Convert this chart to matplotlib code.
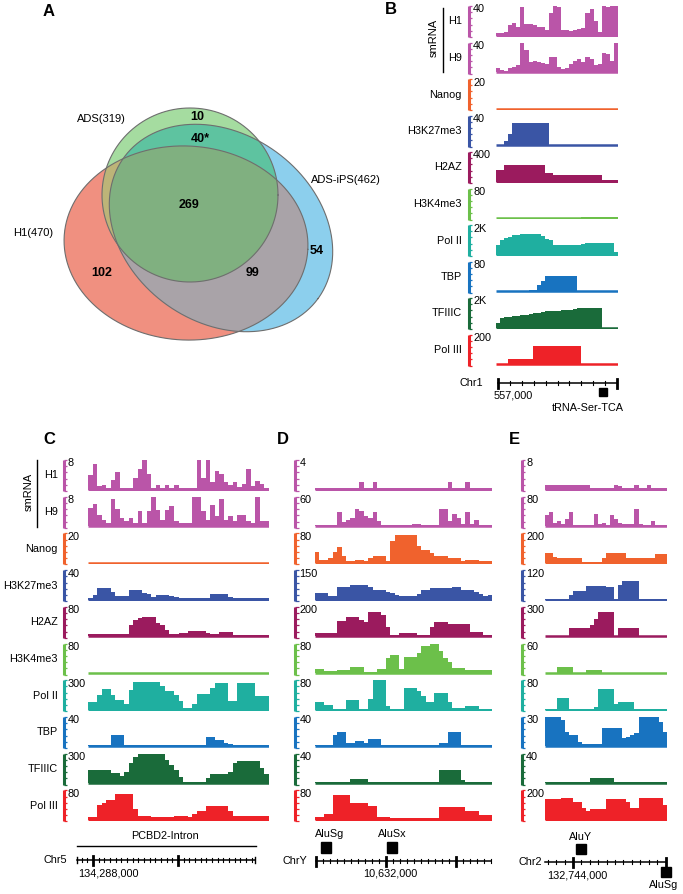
import numpy as np
import matplotlib
matplotlib.use('Agg')
import matplotlib.pyplot as plt

plt.rcParams['font.family'] = ['Liberation Sans', 'DejaVu Sans']

# ---------------- data ----------------
venn_sets = ['H1(470)', 'ADS(319)', 'ADS-iPS(462)']
venn_counts = ['10', '40*', '269', '102', '99', '54']

track_names = ['H1', 'H9', 'Nanog', 'H3K27me3', 'H2AZ', 'H3K4me3',
               'Pol II', 'TBP', 'TFIIIC', 'Pol III']
track_colors = ['#BA55A8', '#BA55A8', '#F0622D', '#3A55A5', '#9B1B5E',
                '#6CC04A', '#1FAFA0', '#1873C0', '#1A6B3A', '#EE2228']

# Panel B (Chr1, tRNA-Ser-TCA)
B_max = [40, 40, 20, 40, 400, 80, 2000, 80, 2000, 200]
B_max_labels = ['40', '40', '20', '40', '400', '80', '2K', '80', '2K', '200']
B_H1 = [4, 4, 5, 14, 17, 12, 39, 16, 15, 14, 11, 11, 8, 30, 40, 38, 7, 7, 6, 7,
        9, 10, 30, 36, 20, 5, 40, 38, 40, 40]
B_H9 = [6, 3, 2, 6, 7, 9, 39, 30, 13, 15, 13, 12, 11, 21, 20, 7, 4, 6, 11, 15,
        17, 13, 20, 17, 9, 11, 26, 24, 15, 39]
B_Nanog = [0] * 30
B_H3K27me3 = [0, 0, 5, 15] + [30] * 9 + [0] * 17
B_H2AZ = [150, 150] + [224] * 10 + [110, 110] + [86] * 12 + [21] * 4
B_H3K4me3 = [1] * 21 + [2] * 9
B_PolII = [630, 1000, 1150, 1220, 1300, 1330, 1370, 1370, 1370, 1370, 1370, 1260,
           1050, 990, 640, 675, 675, 675, 675, 675, 675, 720, 780, 800, 800, 800,
           800, 800, 800, 150]
B_TBP = [0] * 8 + [2, 4, 15, 28] + [40] * 8 + [0] * 10
B_TFIIIC = [300, 650, 680, 720, 760, 800, 840, 880, 920, 960, 1000, 1050, 1090,
            1130, 1130, 1150, 1200, 1200, 1200, 1250, 1300, 1300, 1300, 1300, 1300,
            1300, 0, 0, 0, 0]
B_PolIII = [0, 0, 0] + [36] * 6 + [120] * 12 + [0] * 9

# Panel C (Chr5, PCBD2-Intron)
C_max = [8, 8, 20, 40, 80, 80, 300, 40, 300, 80]
C_max_labels = ['8', '8', '20', '40', '80', '80', '300', '40', '300', '80']
C_H1 = [4, 7, 1, 1.1, 0.3, 2.7, 4.8, 0.3, 0.3, 0.3, 3, 5.6, 8, 4.3, 0.3, 1.1, 0.3,
        1.1, 0.3, 1.1, 0.3, 0.3, 0.3, 0.3, 8, 3.1, 8, 2, 5, 4.3, 2, 1.1, 2, 0.7,
        1.5, 5.6, 1, 2.4, 1.5, 0.3]
C_H9 = [5, 6, 3, 1.8, 1, 7.4, 4.8, 2.3, 1.5, 2.3, 1, 4, 1, 4, 8, 4.4, 1.8, 4.4,
        5.4, 1.4, 1, 1, 1, 8, 8, 4, 1.8, 5.8, 2.8, 7.4, 1.8, 2.8, 1.4, 3.1, 3.1,
        1.4, 1, 8, 1.4, 1.4]
C_Nanog = [0] * 40
C_H3K27me3 = [2, 6, 16, 16, 16, 10, 5, 5, 5, 12.6, 12.6, 12.6, 9, 7, 4, 6.3, 6.3,
              6.3, 5, 3] + [2] * 7 + [7.6] * 4 + [4] + [2] * 8
C_H2AZ = [7] * 9 + [30, 44, 50, 52, 52, 52, 35, 30, 17, 7, 7, 8, 10, 15, 15, 15,
                    15, 10, 7, 7, 11, 11, 11] + [4] * 8
C_H3K4me3 = [1] * 40
C_PolII = [82, 82, 150, 209, 209, 145, 100, 100, 55, 200, 282, 282, 282, 282, 282,
           282, 240, 190, 190, 150, 90, 18, 18, 60, 164, 164, 164, 220, 273, 273,
           273, 90, 90, 273, 273, 273, 273, 136, 136, 136]
C_TBP = [2] * 5 + [15.5] * 3 + [2] * 18 + [13, 13, 9, 9, 5, 3] + [2] * 8
C_TFIIIC = [133] * 5 + [100, 100, 77, 117, 200, 270] + [300] * 6 + \
           [233, 180, 133, 60] + [10] * 5 + \
           [50, 90, 90, 90, 90, 110, 200, 223, 223, 223, 223, 223, 150, 90]
C_PolIII = [9, 9, 40, 46, 54, 54, 69, 69, 69, 69, 28, 11, 11, 11, 7, 7, 7, 7, 7, 11,
            11, 11, 7, 15, 24, 24, 37, 37, 37, 37, 37, 25] + [11] * 8

# Panel D (ChrY, AluSg / AluSx)
D_max = [4, 60, 80, 150, 200, 80, 80, 40, 40, 80]
D_max_labels = ['4', '60', '80', '150', '200', '80', '80', '40', '40', '80']
D_H1 = [0.2] * 10 + [1, 0.2, 0.2, 1] + [0.2] * 16 + [1, 0.2, 0.2, 0.2, 1] + [0.2] * 5
D_H9 = [2, 2, 2, 2, 2, 28, 8, 12, 17, 35, 30, 20, 17, 28, 10] + [2] * 7 + [5, 5] + \
       [2] * 4 + [36, 36, 10, 24, 16, 5, 29, 5, 12] + [2] * 3
D_Nanog = [30, 8, 8, 14, 30, 44, 20, 4, 6, 8, 8, 6, 12, 18, 18, 18, 4, 60, 76, 76,
           76, 76, 76, 45, 36, 36, 28, 18, 18, 18, 12, 12, 12, 4, 8, 8, 8, 4, 4, 4]
D_H3K27me3 = [35, 35, 35, 19, 19, 66, 66, 66, 76, 76, 76, 76, 66, 50, 50, 50, 40,
              32, 24, 19, 19, 19, 19, 28, 47, 47, 60, 60, 60, 60, 60, 66, 66, 47,
              47, 47, 40, 30, 20, 26]
D_H2AZ = [21] * 5 + [105, 105, 130, 130, 130, 110, 95, 168, 168, 168, 147, 60, 10,
                     10] + [21] * 4 + [10] * 3 + [60, 95, 95, 95] + [84] * 5 + \
         [32] * 3 + [10, 10]
D_H3K4me3 = [10, 10, 6, 6, 6, 8, 8, 8, 15, 15, 15, 4, 4, 4, 10, 10, 40, 50, 50, 10,
             44, 44, 44, 55, 72, 72, 80, 80, 59, 40, 30, 13, 13, 13] + [7] * 6
D_PolII = [21, 21, 13, 13, 3, 3, 3, 26, 26, 26, 3, 3, 30, 80, 80, 80, 10, 3, 3, 3,
           59, 59, 59, 51, 38, 21, 21, 46, 46, 46, 21, 5, 5, 5, 10, 10, 10, 3, 3, 3]
D_TBP = [2, 2, 2, 2, 15, 20, 20, 4, 4, 8, 8, 4, 10, 10, 10] + [2] * 13 + \
        [5, 5, 20, 20, 20] + [2] * 7
D_TFIIIC = [2] * 8 + [5] * 4 + [2] * 16 + [18] * 5 + [4] + [2] * 6
D_PolIII = [8, 8, 15, 15, 67, 67, 67, 67, 46, 46, 46, 46, 38, 38, 8, 8, 8] + \
           [4] * 11 + [36, 36, 36, 36, 34, 34, 25, 25, 25, 13, 13, 13]

# Panel E (Chr2, AluY / AluSg)
E_max = [8, 80, 200, 120, 300, 60, 80, 30, 40, 200]
E_max_labels = ['8', '80', '200', '120', '300', '60', '80', '30', '40', '200']
E_H1 = [1.3] * 11 + [0.4] * 6 + [1.3, 1.0] + [0.4] * 3 + [1.3] + [0.4] * 2 + \
       [1.3] + [0.4] * 4
E_H9 = [30, 38, 10, 14, 6, 20, 38, 4, 2, 2, 2, 4, 34, 6, 10, 4, 30, 20, 10, 5, 5,
        5, 48, 6, 2, 2, 14, 2, 2, 2]
E_Nanog = [66, 66, 40] + [30] * 6 + [6] * 5 + [36] + [66] * 5 + [30] * 7 + [62] * 3
E_H3K27me3 = [3] * 6 + [20, 35, 35, 35] + [57] * 5 + \
             [53, 53, 3, 60, 76, 76, 76, 76] + [3] * 7
E_H2AZ = [6] * 6 + [85] * 5 + [110, 180, 252, 252, 252, 252, 6] + [85] * 5 + [6] * 7
E_H3K4me3 = [1, 1, 1, 13, 13, 13, 13, 1, 1, 1, 6, 6, 6, 6] + [1] * 16
E_PolII = [3, 3, 3, 33, 33, 33] + [3] * 6 + \
          [8, 56, 56, 56, 56, 15, 20, 20, 20, 20] + [3] * 8
E_TBP = [30, 30, 30, 30, 27, 15, 12, 12, 5, 2.4, 2.4, 2.4, 2.4, 2.4, 19, 19, 19,
         19, 19, 9, 10, 12, 14, 30, 30, 30, 30, 30, 25, 15]
E_TFIIIC = [1.3] * 11 + [6.3] * 6 + [1.3] * 13
E_PolIII = [143, 143, 143, 143, 149, 149, 149, 118, 118, 80, 57, 73, 73, 73, 73,
            139, 139, 139, 139, 139, 118, 82, 82, 149, 149, 149, 149, 149, 149, 98]

B_tracks = [B_H1, B_H9, B_Nanog, B_H3K27me3, B_H2AZ, B_H3K4me3, B_PolII, B_TBP,
            B_TFIIIC, B_PolIII]
C_tracks = [C_H1, C_H9, C_Nanog, C_H3K27me3, C_H2AZ, C_H3K4me3, C_PolII, C_TBP,
            C_TFIIIC, C_PolIII]
D_tracks = [D_H1, D_H9, D_Nanog, D_H3K27me3, D_H2AZ, D_H3K4me3, D_PolII, D_TBP,
            D_TFIIIC, D_PolIII]
E_tracks = [E_H1, E_H9, E_Nanog, E_H3K27me3, E_H2AZ, E_H3K4me3, E_PolII, E_TBP,
            E_TFIIIC, E_PolIII]

# ---------------- figure ----------------
W, H = 683, 894
fig = plt.figure(figsize=(W / 100, H / 100), dpi=100)
fig.patch.set_facecolor('white')
ov = fig.add_axes([0, 0, 1, 1])
ov.set_xlim(0, W)
ov.set_ylim(H, 0)
ov.axis('off')

FS = 7.8


def panel_letter(x, y, s):
    ov.text(x, y, s, fontsize=12, fontweight='bold', ha='center', va='center')


# ---------------- Venn (panel A) ----------------
def ellipse_pts(cx, cy, a, b, ang, n=400):
    t = np.linspace(0, 2 * np.pi, n, endpoint=False)
    ca, sa = np.cos(np.radians(ang)), np.sin(np.radians(ang))
    x, y = a * np.cos(t), b * np.sin(t)
    return np.column_stack([cx + x * ca - y * sa, cy + x * sa + y * ca])


def clip_poly(subject, clipper):
    s = np.sign(np.sum(clipper[:, 0] * np.roll(clipper[:, 1], -1)
                       - np.roll(clipper[:, 0], -1) * clipper[:, 1]))
    out = [tuple(p) for p in subject]
    n = len(clipper)
    for i in range(n):
        A = clipper[i]
        Bp = clipper[(i + 1) % n]

        def inside(P):
            return s * ((Bp[0] - A[0]) * (P[1] - A[1]) - (Bp[1] - A[1]) * (P[0] - A[0])) >= 0

        def inter(P, Q):
            x1, y1 = P
            x2, y2 = Q
            x3, y3 = A
            x4, y4 = Bp
            den = (x1 - x2) * (y3 - y4) - (y1 - y2) * (x3 - x4)
            t = ((x1 - x3) * (y3 - y4) - (y1 - y3) * (x3 - x4)) / den
            return (x1 + t * (x2 - x1), y1 + t * (y2 - y1))

        inp = out
        out = []
        if not inp:
            break
        prev = inp[-1]
        for cur in inp:
            if inside(cur):
                if not inside(prev):
                    out.append(inter(prev, cur))
                out.append(cur)
            elif inside(prev):
                out.append(inter(prev, cur))
            prev = cur
    return np.array(out)


red = ellipse_pts(186, 243, 122, 97, 3)
blue = ellipse_pts(221, 228, 120, 94, 36)
green = ellipse_pts(190, 195, 88, 87, 0)

def fillp(p, c):
    if len(p) > 2:
        ov.fill(p[:, 0], p[:, 1], color=c, lw=0)

fillp(red, '#F09080')
fillp(blue, '#8CCFED')
rb = clip_poly(red, blue)
fillp(rb, '#A9A3A8')
fillp(green, '#A5DCA0')
fillp(clip_poly(green, blue), '#5EC3A0')
fillp(clip_poly(green, red), '#BDB478')
fillp(clip_poly(clip_poly(green, red), blue), '#80B080')
for p in (red, blue, green):
    pp = np.vstack([p, p[:1]])
    ov.plot(pp[:, 0], pp[:, 1], color='#6E6E6E', lw=0.8)

ov.text(33, 233, venn_sets[0], fontsize=8, ha='center', va='center')
ov.text(101, 119, venn_sets[1], fontsize=8, ha='center', va='center')
ov.text(311, 180, venn_sets[2], fontsize=8, ha='left', va='center')
cnt_pos = [(197, 117), (200, 139), (189, 205), (102, 273), (253, 273), (317, 251)]
for (x, y), s in zip(cnt_pos, venn_counts):
    ov.text(x, y, s, fontsize=9, fontweight='bold', ha='center', va='center')

panel_letter(49, 12, 'A')
panel_letter(391, 10, 'B')
panel_letter(49, 440, 'C')
panel_letter(283, 440, 'D')
panel_letter(514, 440, 'E')


# ---------------- track panels ----------------
def draw_panel(tracks, maxs, maxlabels, x0, x1, top0, dy, h, bx, label_x=None):
    for i, (vals, mx, ml, col) in enumerate(zip(tracks, maxs, maxlabels, track_colors)):
        top = top0 + dy * i
        ax = fig.add_axes([x0 / W, 1 - (top + h) / H, (x1 - x0) / W, h / H])
        n = len(vals)
        edges = np.arange(n + 1)
        ax.stairs(vals, edges, fill=True, color=col, lw=0, baseline=0)
        ax.plot([0, n], [0, 0], color=col, lw=1.8, solid_capstyle='butt')
        ax.set_xlim(0, n)
        ax.set_ylim(-0.05 * mx, mx)
        ax.axis('off')
        ov.plot([bx, bx], [top, top + h], color=col, lw=2.2, solid_capstyle='butt')
        for k in range(6):
            yy = top + h * k / 5
            ov.plot([bx, bx + 3.6], [yy, yy], color=col, lw=0.9, solid_capstyle='butt')
        ov.text(bx + 4.5, top - 1.5, ml, fontsize=FS, ha='left', va='top')
        if label_x is not None:
            ov.text(label_x, top + h / 2, track_names[i], fontsize=FS,
                    ha='right', va='center')


draw_panel(B_tracks, B_max, B_max_labels, 496, 618, 6, 36.5, 31, 468.5, label_x=462)
draw_panel(C_tracks, C_max, C_max_labels, 88, 269, 460, 36.7, 31, 63.5, label_x=58)
draw_panel(D_tracks, D_max, D_max_labels, 315, 492, 460, 36.7, 31, 295)
draw_panel(E_tracks, E_max, E_max_labels, 545, 667, 460, 36.7, 31, 521.7)

# smRNA brackets
ov.text(434, 38, 'smRNA', rotation=90, fontsize=8, ha='center', va='center')
ov.plot([443, 443], [8, 72], color='black', lw=1)
ov.text(29, 492, 'smRNA', rotation=90, fontsize=8, ha='center', va='center')
ov.plot([37, 37], [460, 527], color='black', lw=1)


# ---------------- rulers ----------------
def ruler(x0, x1, y, major, minor):
    ov.plot([x0, x1], [y, y], color='black', lw=1.1)
    for t in minor:
        ov.plot([t, t], [y - 2.3, y + 2.3], color='black', lw=0.8)
    for t in major:
        ov.plot([t, t], [y - 4.5, y + 4.5], color='black', lw=2)


# B
ruler(498, 617, 383, [498, 617], [498 + 11.9 * k for k in range(1, 10)])
ov.text(483, 383, 'Chr1', fontsize=FS, ha='right', va='center')
ov.text(494, 395, '557,000', fontsize=FS, ha='left', va='center')
ov.add_patch(plt.Rectangle((599, 388), 8, 8, color='black'))
ov.text(588, 408, 'tRNA-Ser-TCA', fontsize=FS, ha='center', va='center')

# C
ruler(77, 255, 860, [93, 178], [93 + 5.67 * k for k in range(-2, 29)])
ov.plot([77, 77], [857, 863], color='black', lw=1)
ov.plot([255, 255], [857, 863], color='black', lw=1)
ov.text(67, 860, 'Chr5', fontsize=FS, ha='right', va='center')
ov.text(78, 873, '134,288,000', fontsize=FS, ha='left', va='center')
ov.text(165, 836, 'PCBD2-Intron', fontsize=FS, ha='center', va='center')
ov.plot([77, 256], [846, 846], color='black', lw=1)

# D
ruler(316, 491, 861, [316, 386, 456], [316 + 7 * k for k in range(1, 26)])
ov.text(307, 861, 'ChrY', fontsize=FS, ha='right', va='center')
ov.text(390, 874, '10,632,000', fontsize=FS, ha='center', va='center')
ov.text(330, 834, 'AluSg', fontsize=FS, ha='center', va='center')
ov.add_patch(plt.Rectangle((321, 842), 10, 11, color='black'))
ov.text(392, 834, 'AluSx', fontsize=FS, ha='center', va='center')
ov.add_patch(plt.Rectangle((387, 842), 10, 11, color='black'))

# E
ruler(545, 666, 862, [573, 666], [573 + 8.4 * k for k in range(-3, 11)])
ov.text(542, 862, 'Chr2', fontsize=FS, ha='right', va='center')
ov.text(547, 875, '132,744,000', fontsize=FS, ha='left', va='center')
ov.text(581, 837, 'AluY', fontsize=FS, ha='center', va='center')
ov.add_patch(plt.Rectangle((576, 844), 10, 10, color='black'))
ov.add_patch(plt.Rectangle((661, 867), 10, 10, color='black'))
ov.text(664, 885, 'AluSg', fontsize=FS, ha='center', va='center')

fig.savefig('out.png', dpi=100, facecolor='white')
